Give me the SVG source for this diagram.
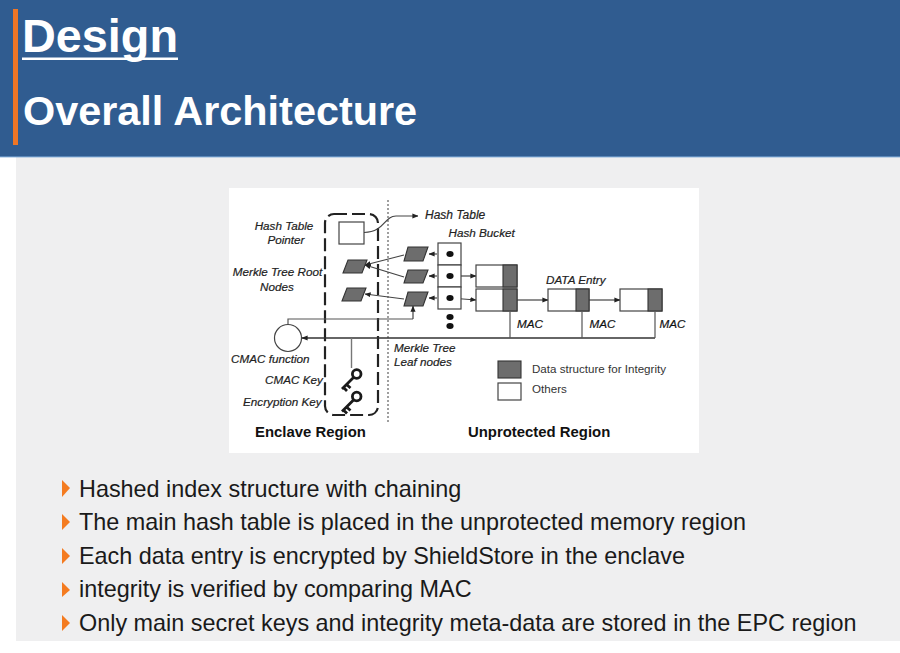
<svg xmlns="http://www.w3.org/2000/svg" width="900" height="653" viewBox="0 0 900 653">
  <style>
    text { font-family: "Liberation Sans", Arial, sans-serif; }
    .title { font-weight: 700; fill: #fff; }
    .bullet { font-size: 23.4px; fill: #1a1a1a; }
    .lab { font-size: 11.7px; font-style: italic; fill: #222; stroke: #222; stroke-width: 0.2; }
    .mac { font-size: 11.7px; font-style: italic; fill: #111; stroke: #111; stroke-width: 0.2; }
    .region { font-size: 14.9px; font-weight: 700; fill: #111; }
    .leg { font-size: 11.6px; fill: #333; }
    .box { fill: #fff; stroke: #444; stroke-width: 1.2; }
    .dark { fill: #6d6d6d; stroke: #333; stroke-width: 1.1; }
    .line { fill: none; stroke: #555; stroke-width: 1.2; }
    .arrow { fill: none; stroke: #444; stroke-width: 1.2; marker-end: url(#head); }
    .tick { fill: #f47b20; }
  </style>
  <defs>
    <marker id="head" viewBox="0 0 8 8" refX="7.5" refY="4" markerWidth="6" markerHeight="6" markerUnits="userSpaceOnUse" orient="auto">
      <path d="M0 0.6L8 4L0 7.4Z" fill="#222"/>
    </marker>
  </defs>

  <!-- slide background and header -->
  <rect width="900" height="653" fill="#fff"/>
  <rect x="16" y="157" width="884" height="484" fill="#efeff0"/>
  <rect width="900" height="157" fill="#305c90"/>
  <rect y="156.4" width="900" height="1" fill="#7aa7d6"/>
  <rect x="13" y="9" width="5" height="136" fill="#ee7626"/>
  <g id="heading">
    <text class="title" x="22" y="52" font-size="46.8">Design</text>
    <rect x="22" y="57.5" width="156" height="2.5" fill="#fff"/>
    <text class="title" x="23" y="125" font-size="41.4">Overall Architecture</text>
  </g>

  <!-- figure panel -->
  <rect x="229" y="188" width="470" height="265" fill="#fff"/>

  <g id="connectors">
    <rect x="325" y="214" width="53" height="201" rx="9" fill="none" stroke="#222" stroke-width="2.2" stroke-dasharray="13 5"/>
    <line x1="388" y1="200" x2="388" y2="422" stroke="#777" stroke-width="1.4" stroke-dasharray="2 2"/>
    <path class="arrow" d="M364 232.500C385 232 384 216 396 216C402 216 408 216 418 216"/>
    <path class="arrow" d="M404 255L365 265"/>
    <path class="arrow" d="M404 277L365 265"/>
    <path class="arrow" d="M404 299L365 294"/>
    <path class="arrow" d="M437 254L429 254"/>
    <path class="arrow" d="M437 276L429 276"/>
    <path class="arrow" d="M437 298L429 298"/>
    <path class="arrow" d="M450 276L476 276"/>
    <path class="arrow" d="M450 298L476 300"/>
    <path class="arrow" d="M517 300L548 300"/>
    <path class="arrow" d="M589 300L620 300"/>
    <path class="line" d="M288 325V319H413"/>
    <path class="arrow" d="M413 319V306"/>
    <path class="arrow" d="M655 338H302" style="stroke:#333;stroke-width:1.5"/>
    <path class="line" d="M510 312V338M582 312V338M655 312V338"/>
    <path class="line" d="M351.500 338V368" style="stroke:#777;stroke-width:1.4"/>
  </g>

  <g id="hash-table-pointer"><rect class="box" x="339" y="222" width="25" height="22"/></g>

  <g id="merkle-roots">
    <polygon class="dark" points="348,260 367,260 362,273 343,273"/>
    <polygon class="dark" points="347,288 366,288 361,301 342,301"/>
  </g>
  <g id="merkle-leaves">
    <polygon class="dark" points="408,247 428,247 423,261 404,261"/>
    <polygon class="dark" points="408,270 428,270 423,283 404,283"/>
    <polygon class="dark" points="408,292 428,292 423,306 404,306"/>
  </g>

  <g id="hash-bucket">
    <rect class="box" x="438" y="243" width="23" height="22"/>
    <rect class="box" x="438" y="265" width="23" height="22"/>
    <rect class="box" x="438" y="287" width="23" height="22"/>
    <ellipse cx="450" cy="254" rx="3.600" ry="3" fill="#111"/>
    <ellipse cx="450" cy="276" rx="3.600" ry="3" fill="#111"/>
    <ellipse cx="450" cy="298" rx="3.600" ry="3" fill="#111"/>
    <ellipse cx="450" cy="317" rx="3.600" ry="3" fill="#111"/>
    <ellipse cx="450" cy="326" rx="3.600" ry="3" fill="#111"/>
  </g>

  <g id="data-entry-1">
    <rect class="box" x="476" y="265" width="41" height="22"/>
    <rect class="dark" x="503" y="265" width="14" height="22"/>
  </g>
  <g id="data-entry-2">
    <rect class="box" x="476" y="289" width="41" height="22"/>
    <rect class="dark" x="503" y="289" width="14" height="22"/>
  </g>
  <g id="data-entry-3">
    <rect class="box" x="548" y="289" width="41" height="22"/>
    <rect class="dark" x="576" y="289" width="13" height="22"/>
  </g>
  <g id="data-entry-4">
    <rect class="box" x="620" y="289" width="42" height="22"/>
    <rect class="dark" x="648" y="289" width="14" height="22"/>
  </g>

  <g id="cmac-function"><circle cx="288" cy="338" r="13.5" fill="#fff" stroke="#444" stroke-width="1.2"/></g>

  <g id="cmac-key" fill="none" stroke="#1a1a1a">
    <circle cx="356.700" cy="374" r="4.300" stroke-width="2.800"/>
    <path d="M353.500 377.500L342 389M346.500 384.500L350.500 388M343.500 387.500L347 391" stroke-width="2.800"/>
  </g>
  <g id="encryption-key" fill="none" stroke="#1a1a1a">
    <circle cx="356.700" cy="396.500" r="4.300" stroke-width="2.800"/>
    <path d="M353.500 400L342 411.500M346.500 407L350.500 410.500M343.500 410L347 413.500" stroke-width="2.800"/>
  </g>

  <g id="labels">
    <text class="lab" x="284" y="230" text-anchor="middle">Hash Table</text>
    <text class="lab" x="286" y="244" text-anchor="middle">Pointer</text>
    <text class="lab" x="277.500" y="276" text-anchor="middle">Merkle Tree Root</text>
    <text class="lab" x="277" y="291" text-anchor="middle">Nodes</text>
    <text class="lab" x="231" y="363">CMAC function</text>
    <text class="lab" x="265" y="384">CMAC Key</text>
    <text class="lab" x="243" y="406">Encryption Key</text>
    <text class="lab" x="425" y="219" style="font-size:12px">Hash Table</text>
    <text class="lab" x="448.500" y="237">Hash Bucket</text>
    <text class="lab" x="546" y="284">DATA Entry</text>
    <text class="lab" x="394" y="352">Merkle Tree</text>
    <text class="lab" x="394" y="366">Leaf nodes</text>
    <text class="mac" x="517" y="328">MAC</text>
    <text class="mac" x="589.500" y="328">MAC</text>
    <text class="mac" x="659.500" y="328">MAC</text>
  </g>

  <g id="legend">
    <rect class="dark" x="498" y="361" width="23" height="17"/>
    <rect class="box" x="498" y="383" width="23" height="17"/>
    <text class="leg" x="532" y="373">Data structure for Integrity</text>
    <text class="leg" x="532" y="393">Others</text>
  </g>

  <text class="region" x="255" y="437">Enclave Region</text>
  <text class="region" x="468" y="437">Unprotected Region</text>

  <!-- bullet list -->
  <g id="bullets">
    <polygon class="tick" points="62,480 70,488 62,497"/>
    <polygon class="tick" points="62,514 70,522 62,530"/>
    <polygon class="tick" points="62,548 70,556 62,564"/>
    <polygon class="tick" points="62,582 70,590 62,597"/>
    <polygon class="tick" points="62,615 70,623 62,631"/>
    <text class="bullet" x="79" y="497">Hashed index structure with chaining</text>
    <text class="bullet" x="79" y="530">The main hash table is placed in the unprotected memory region</text>
    <text class="bullet" x="79" y="564">Each data entry is encrypted by ShieldStore in the enclave</text>
    <text class="bullet" x="79" y="597">integrity is verified by comparing MAC</text>
    <text class="bullet" x="79" y="631">Only main secret keys and integrity meta-data are stored in the EPC region</text>
  </g>
</svg>
